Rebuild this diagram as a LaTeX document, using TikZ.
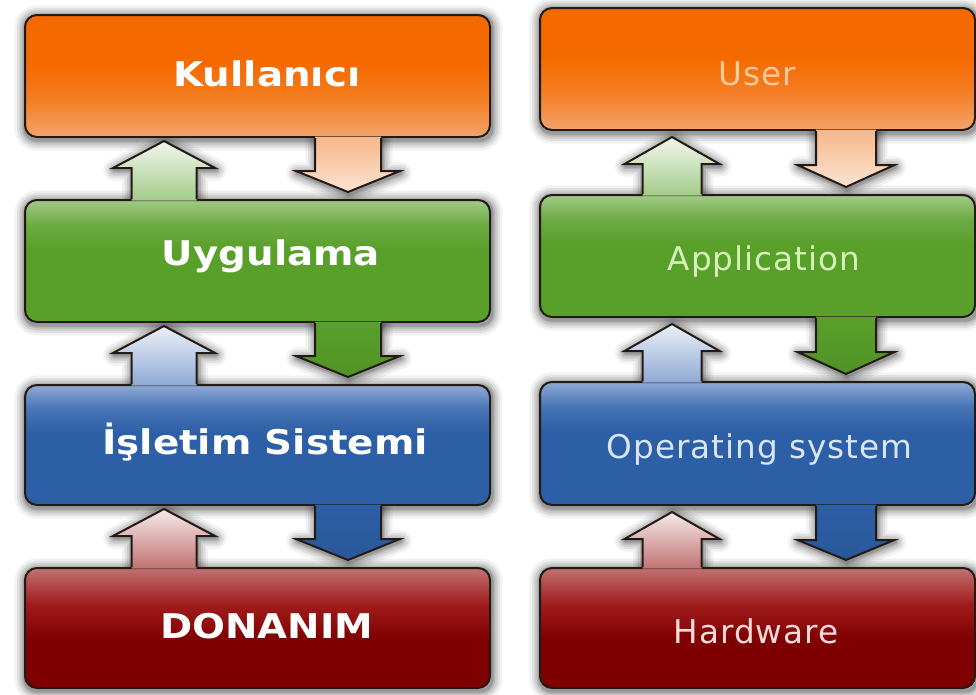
\documentclass[tikz,border=0pt]{standalone}
\usepackage{fontspec}
\newfontfamily\leftfont{DejaVu Sans}[FakeStretch=1.14]
\newfontfamily\rightfont{DejaVu Sans}[LetterSpace=3]
\usetikzlibrary{calc}
\pgfdeclarelayer{bg}
\pgfsetlayers{bg,main}
\definecolor{edgec}{HTML}{231A14}
\definecolor{oTop}{HTML}{F56A00}\definecolor{oMid}{HTML}{F47E24}\definecolor{oBot}{HTML}{F3A46C}
\definecolor{gTop}{HTML}{A2CB88}\definecolor{gMid}{HTML}{6DAB44}\definecolor{gBot}{HTML}{58A02A}
\definecolor{bTop}{HTML}{8FAAD5}\definecolor{bMid}{HTML}{4674B6}\definecolor{bBot}{HTML}{2D5FA6}
\definecolor{rTop}{HTML}{C27272}\definecolor{rMid}{HTML}{A11C1C}\definecolor{rBot}{HTML}{7E0000}
\definecolor{tUser}{HTML}{FBCB9B}\definecolor{tApp}{HTML}{D6F2B8}
\definecolor{tOS}{HTML}{D8E6F8}\definecolor{tHW}{HTML}{FADADA}
\pgfdeclareverticalshading{shOrange}{100bp}{color(0bp)=(oBot); color(25bp)=(oBot); color(40bp)=(oMid); color(55bp)=(oTop); color(100bp)=(oTop)}
\pgfdeclareverticalshading{shGreen}{100bp}{color(0bp)=(gBot); color(25bp)=(gBot); color(55bp)=(gBot); color(65bp)=(gMid); color(75bp)=(gTop); color(100bp)=(gTop)}
\pgfdeclareverticalshading{shBlue}{100bp}{color(0bp)=(bBot); color(25bp)=(bBot); color(55bp)=(bBot); color(65bp)=(bMid); color(75bp)=(bTop); color(100bp)=(bTop)}
\pgfdeclareverticalshading{shRed}{100bp}{color(0bp)=(rBot); color(25bp)=(rBot); color(45bp)=(rBot); color(60bp)=(rMid); color(75bp)=(rTop); color(100bp)=(rTop)}
% soft shadow
\newcommand\halo[1]{\begin{scope}[transform canvas={shift={(1,2)}}]%
  \foreach \lw/\op in {16/0.05,12/0.07,8.5/0.09,5/0.11,2.5/0.14}{\draw[line width=\lw pt, draw=black, draw opacity=\op, line join=round] #1;}%
\end{scope}}
% up arrow: #1 lower node, #2 upper node, #3 x offset, #4 shaft half width, #5 head half width, #6 fill style
\newcommand\UpArr[6]{%
  \path ($(#1.north west)+(#3,0)$) coordinate (ub) ($(#2.south west)+(#3,\uptip)$) coordinate (ut);
  \begin{pgfonlayer}{bg}
    \halo{($(ub)+(-#4,0)$) -- ($(ut)+(-#4,\uphd)$) -- ($(ut)+(-#5,\uphd)$) -- (ut) -- ($(ut)+(#5,\uphd)$) -- ($(ut)+(#4,\uphd)$) -- ($(ub)+(#4,0)$) -- cycle}
  \end{pgfonlayer}
  \path[#6] ($(ub)+(-#4,1.5)$) -- ($(ut)+(-#4,\uphd)$) -- ($(ut)+(-#5,\uphd)$) -- (ut) -- ($(ut)+(#5,\uphd)$) -- ($(ut)+(#4,\uphd)$) -- ($(ub)+(#4,1.5)$) -- cycle;
  \draw[edge] ($(ub)+(-#4,0)$) -- ($(ut)+(-#4,\uphd)$) -- ($(ut)+(-#5,\uphd)$) -- (ut) -- ($(ut)+(#5,\uphd)$) -- ($(ut)+(#4,\uphd)$) -- ($(ub)+(#4,0)$);
}
% down arrow: #1 upper node, #2 lower node, #3 x offset, #4 shaft half width, #5 head half width, #6 fill style
\newcommand\DnArr[6]{%
  \path ($(#1.south west)+(#3,0)$) coordinate (db) ($(#2.north west)+(#3,-\dntip)$) coordinate (dt);
  \begin{pgfonlayer}{bg}
    \halo{($(db)+(-#4,0)$) -- ($(db)+(-#4,\dnhd)$) -- ($(db)+(-#5,\dnhd)$) -- (dt) -- ($(db)+(#5,\dnhd)$) -- ($(db)+(#4,\dnhd)$) -- ($(db)+(#4,0)$) -- cycle}
  \end{pgfonlayer}
  \path[#6] ($(db)+(-#4,-1.5)$) -- ($(db)+(-#4,\dnhd)$) -- ($(db)+(-#5,\dnhd)$) -- (dt) -- ($(db)+(#5,\dnhd)$) -- ($(db)+(#4,\dnhd)$) -- ($(db)+(#4,-1.5)$) -- cycle;
  \draw[edge] ($(db)+(-#4,0)$) -- ($(db)+(-#4,\dnhd)$) -- ($(db)+(-#5,\dnhd)$) -- (dt) -- ($(db)+(#5,\dnhd)$) -- ($(db)+(#4,\dnhd)$) -- ($(db)+(#4,0)$);
}
\newcommand\boxhalo[1]{\begin{pgfonlayer}{bg}\halo{[rounded corners=9pt] (#1.north west) rectangle (#1.south east)}\end{pgfonlayer}}
\begin{document}
\begin{tikzpicture}[x=0.75pt,y=-0.75pt,
  layerbox/.style={rounded corners=9pt, draw=edgec, line width=1.5pt, inner sep=0pt, minimum height=91.5pt},
  lcol/.style={layerbox, minimum width=348.75pt},
  rcol/.style={layerbox, minimum width=326.25pt},
  edge/.style={draw=edgec, line width=1.5pt, line join=miter},
  ltxt/.style={anchor=base, inner sep=0pt, text=white, font=\leftfont\bfseries\fontsize{25.5}{30}\selectfont},
  rtxt/.style={anchor=base, inner sep=0pt, font=\rightfont\fontsize{24.5}{28}\selectfont},
  oDown/.style={top color=oBot!80!white, bottom color=oBot!30!white},
  gUp/.style={top color=gTop!15!white, bottom color=gTop},
  gDown/.style={top color=gBot, bottom color=gBot!92!black},
  bUp/.style={top color=bTop!18!white, bottom color=bTop},
  bDown/.style={top color=bBot, bottom color=bBot!92!black},
  rUp/.style={top color=rTop!15!white, bottom color=rTop}]
\useasboundingbox (0,0) rectangle (976,694);
\begin{pgfonlayer}{bg}
  \fill[white] (0,0) rectangle (976,694);
\end{pgfonlayer}

% ---------- left column ----------
\node[lcol, shading=shOrange] (k) at (257.5,76) {};
\node[lcol, shading=shGreen] (u) at (257.5,261) {};
\node[lcol, shading=shBlue, minimum height=90pt] (i) at (257.5,445) {};
\node[lcol, shading=shRed, minimum height=90pt] (d) at (257.5,628) {};
\boxhalo{k}\boxhalo{u}\boxhalo{i}\boxhalo{d}

\def\uptip{3}\def\uphd{27}\def\dntip{7}\def\dnhd{33}
\DnArr{k}{u}{324}{33}{52}{oDown}
\UpArr{u}{k}{140}{32.5}{51}{gUp}
\DnArr{u}{i}{324}{33}{52}{gDown}
\UpArr{i}{u}{140}{32.5}{51}{bUp}
\DnArr{i}{d}{324}{33}{52}{bDown}
\UpArr{d}{i}{140}{32.5}{51}{rUp}

\node[ltxt] (kt) at (267,86) {Kullanıcı};
\node[ltxt] (ut) at (271,265) {Uygulama};
\node[ltxt] (it) at (265,454) {İşletim Sistemi};
\node[ltxt] (dt) at (266.5,638) {DONANIM};

% ---------- right column ----------
\node[rcol, shading=shOrange] (us) at (757.5,69) {};
\node[rcol, shading=shGreen] (ap) at (757.5,256) {};
\node[rcol, shading=shBlue, minimum height=92.25pt] (os) at (757.5,443.5) {};
\node[rcol, shading=shRed, minimum height=90pt] (hw) at (757.5,628) {};
\boxhalo{us}\boxhalo{ap}\boxhalo{os}\boxhalo{hw}

\def\uptip{6}\def\uphd{27}\def\dntip{7}\def\dnhd{34}
\DnArr{us}{ap}{307}{30}{48.5}{oDown}
\UpArr{ap}{us}{133}{29.5}{47.5}{gUp}
\DnArr{ap}{os}{307}{30}{48.5}{gDown}
\UpArr{os}{ap}{133}{29.5}{47.5}{bUp}
\DnArr{os}{hw}{307}{30}{48.5}{bDown}
\UpArr{hw}{os}{133}{29.5}{47.5}{rUp}

\node[rtxt, text=tUser] (ust) at (757.5,85) {User};
\node[rtxt, text=tApp] (apt) at (764,270) {Application};
\node[rtxt, text=tOS] (ost) at (759.5,458) {Operating system};
\node[rtxt, text=tHW] (hwt) at (756,643) {Hardware};
\end{tikzpicture}
\end{document}
